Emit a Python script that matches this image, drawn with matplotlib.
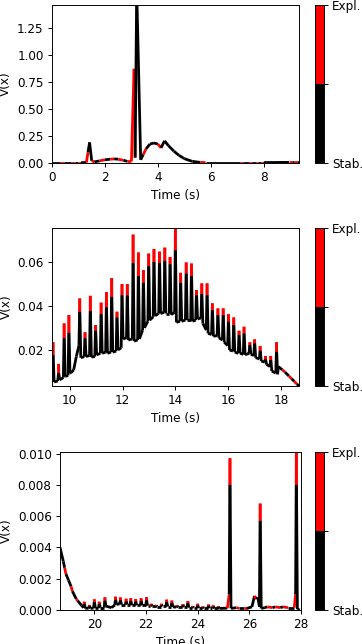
import numpy as np
import matplotlib
matplotlib.use('Agg')
import matplotlib.pyplot as plt
from matplotlib.collections import LineCollection
from matplotlib.colors import ListedColormap, Normalize
from matplotlib.cm import ScalarMappable
from matplotlib.ticker import MultipleLocator

# state per point: 0 = stable (black), 1 = explosive (red)

# panel 1, 0 - 9.33 s
t1 = [0.0, 0.3, 0.45, 0.7, 0.85, 1.0, 1.1, 1.3, 1.36, 1.42, 1.5, 1.6, 1.8, 2.0, 2.2, 2.35,
      2.5, 2.7, 2.85, 3.0, 3.1, 3.14, 3.2, 3.35, 3.45, 3.55, 3.7, 3.85, 4.0, 4.12, 4.25,
      4.4, 4.6, 4.8, 5.0, 5.3, 5.6, 5.8, 7.1, 7.2, 7.45, 7.55, 7.7, 7.8, 7.9, 8.0, 8.95,
      9.05, 9.15, 9.25, 9.33]
v1 = [0.003, 0.003, 0.003, 0.003, 0.003, 0.003, 0.003, 0.005, 0.10, 0.19, 0.02, 0.01, 0.02,
      0.03, 0.035, 0.038, 0.035, 0.025, 0.015, 0.015, 0.87, 0.05, 1.6, 0.03, 0.08, 0.13,
      0.175, 0.185, 0.175, 0.14, 0.205, 0.16, 0.11, 0.07, 0.04, 0.015, 0.006, 0.004, 0.004,
      0.004, 0.004, 0.004, 0.004, 0.004, 0.004, 0.004, 0.006, 0.006, 0.006, 0.006, 0.006]
s1 = [0, 1, 0, 1, 0, 1, 0, 1, 0, 0, 1, 0, 1, 0, 1, 0, 1, 0, 1, 1, 1, 0, 0, 0, 1, 0, 0, 0, 1,
      0, 0, 0, 0, 0, 0, 0, 1, 0, 1, 0, 1, 0, 1, 0, 1, 0, 1, 0, 1, 0, 0]

# panel 2, spikes: time, level before, red/black change, peak, level after
spike_t2 = [9.37, 9.58, 9.79, 9.97, 10.38, 10.58, 10.78, 10.98, 11.19, 11.39, 11.59, 11.79,
            11.98, 12.18, 12.40, 12.60, 12.79, 12.99, 13.19, 13.40, 13.60, 13.80, 14.00,
            14.20, 14.41, 14.61, 14.80, 15.00, 15.20, 15.40, 15.61, 15.81, 16.01, 16.21,
            16.41, 16.60, 16.82, 17.00, 17.21, 17.41, 17.61, 17.83]
spike_peak2 = [0.0235, 0.0137, 0.032, 0.0358, 0.0433, 0.028, 0.0445, 0.0313, 0.0414, 0.0462,
               0.0525, 0.0373, 0.0498, 0.0498, 0.0722, 0.0641, 0.0561, 0.0636, 0.0657,
               0.0645, 0.0663, 0.0621, 0.0752, 0.0549, 0.0596, 0.0591, 0.0471, 0.0501,
               0.0501, 0.0411, 0.0388, 0.0388, 0.0362, 0.0347, 0.0287, 0.0305, 0.0235,
               0.0248, 0.0218, 0.0173, 0.0173, 0.0235]
spike_mid2 = [0.0177, 0.0095, 0.0253, 0.0278, 0.0373, 0.0253, 0.0377, 0.0287, 0.0362, 0.0393,
              0.044, 0.0347, 0.0448, 0.0447, 0.0594, 0.0535, 0.0504, 0.0579, 0.0599, 0.0594,
              0.0603, 0.0588, 0.0651, 0.0504, 0.0546, 0.0534, 0.0448, 0.0453, 0.0448, 0.038,
              0.0358, 0.0358, 0.0328, 0.0313, 0.0268, 0.0275, 0.0223, 0.023, 0.0197, 0.0158,
              0.0155, 0.0192]
spike_base2 = [0.0060, 0.0060, 0.0075, 0.0085, 0.0220, 0.0170, 0.0175, 0.0170, 0.0185, 0.0190,
               0.0190, 0.0195, 0.0210, 0.0255, 0.0250, 0.0245, 0.0290, 0.0330, 0.0350,
               0.0365, 0.0370, 0.0365, 0.0370, 0.0330, 0.0335, 0.0335, 0.0335, 0.0345,
               0.0290, 0.0270, 0.0265, 0.0245, 0.0220, 0.0195, 0.0185, 0.0180, 0.0185,
               0.0175, 0.0160, 0.0145, 0.0125, 0.0095]
spike_after2 = [0.0055, 0.0065, 0.0080, 0.0095, 0.0165, 0.0170, 0.0168, 0.0178, 0.0185,
                0.0185, 0.0190, 0.0200, 0.0250, 0.0245, 0.0240, 0.0250, 0.0300, 0.0335,
                0.0355, 0.0365, 0.0365, 0.0360, 0.0325, 0.0330, 0.0335, 0.0330, 0.0340,
                0.0320, 0.0275, 0.0262, 0.0255, 0.0235, 0.0200, 0.0190, 0.0185, 0.0178,
                0.0180, 0.0165, 0.0150, 0.0135, 0.0105, 0.0090]
# panel 2, extra points between spikes
base_t2 = [9.33, 10.06, 10.15, 10.25, 17.9, 18.05, 18.15, 18.3, 18.4, 18.5, 18.6, 18.68]
base_v2 = [0.0150, 0.0098, 0.0110, 0.0170, 0.0125, 0.0110, 0.0100, 0.0082, 0.0070, 0.0058,
           0.0046, 0.0037]
base_s2 = [0, 0, 0, 0, 0, 1, 0, 1, 0, 1, 0, 0]

# panel 3, spikes
spike_t3 = [19.61, 19.81, 20.00, 20.19, 20.41, 20.82, 21.01, 21.23, 21.41, 21.60, 21.81,
            22.02, 22.20, 22.40, 22.60, 22.80, 23.00, 23.20, 23.43, 23.62, 23.81, 24.00,
            24.20, 24.42, 24.60, 24.80, 25.25, 26.42, 27.82]
spike_peak3 = [0.00053, 0.00032, 0.00068, 0.00053, 0.00081, 0.00085, 0.00080, 0.00072,
               0.00075, 0.00070, 0.00075, 0.00082, 0.00040, 0.00032, 0.00040, 0.00066,
               0.00060, 0.00030, 0.00038, 0.00057, 0.00026, 0.00040, 0.00022, 0.00035,
               0.00030, 0.00025, 0.0097, 0.0068, 0.0110]
spike_mid3 = [0.00040, 0.00025, 0.00050, 0.00040, 0.00060, 0.00065, 0.00062, 0.00055,
              0.00058, 0.00055, 0.00058, 0.00062, 0.00032, 0.00026, 0.00032, 0.00050,
              0.00046, 0.00024, 0.00030, 0.00044, 0.00020, 0.00030, 0.00018, 0.00027,
              0.00023, 0.00020, 0.0080, 0.0057, 0.0080]
spike_base3 = [0.00015, 0.00012, 0.00012, 0.00012, 0.00015, 0.00030, 0.00040, 0.00035,
               0.00035, 0.00030, 0.00030, 0.00030, 0.00028, 0.00025, 0.00022, 0.00025,
               0.00022, 0.00018, 0.00018, 0.00020, 0.00015, 0.00015, 0.00012, 0.00012,
               0.00012, 0.00010, 0.00100, 0.00020, 0.00100]
spike_after3 = [0.00010, 0.00010, 0.00012, 0.00015, 0.00025, 0.00035, 0.00035, 0.00035,
                0.00030, 0.00030, 0.00030, 0.00028, 0.00025, 0.00022, 0.00025, 0.00022,
                0.00020, 0.00018, 0.00020, 0.00015, 0.00015, 0.00012, 0.00012, 0.00012,
                0.00010, 0.00010, 0.00010, 0.00010, 0.00005]
base_t3 = [18.67, 18.8, 18.85, 18.9, 19.0, 19.1, 19.15, 19.3, 19.35, 19.5, 20.65, 25.15,
           25.5, 25.6, 25.8, 25.9, 26.1, 26.2, 26.28, 26.33, 26.6, 26.7, 26.9, 27.0, 27.2,
           27.3, 27.5, 27.74, 27.95]
base_v3 = [0.0040, 0.0031, 0.0027, 0.0023, 0.0019, 0.0015, 0.0012, 0.0007, 0.0006, 0.0003,
           0.00015, 0.00012, 0.00015, 0.0001, 0.0001, 0.0001, 0.0002, 0.0009, 0.0007, 0.0008,
           0.00015, 0.0002, 0.00015, 0.0002, 0.00015, 0.0002, 0.00015, 0.00015, 0.0]
base_s3 = [0, 0, 1, 0, 0, 1, 0, 1, 0, 0, 0, 1, 1, 0, 1, 0, 0, 1, 0, 0, 0, 1, 0, 1, 0, 1, 0,
           1, 0]


def build(spike_t, spike_base, spike_mid, spike_peak, spike_after, base_t, base_v, base_s):
    pts = list(zip(base_t, base_v, base_s))
    for t, b, m, p, a in zip(spike_t, spike_base, spike_mid, spike_peak, spike_after):
        pts += [(t - 0.03, b, 0), (t - 0.006, m, 1), (t, p, 1), (t + 0.006, m, 0),
                (t + 0.04, a, 0)]
    pts.sort(key=lambda q: q[0])
    return [q[0] for q in pts], [q[1] for q in pts], [q[2] for q in pts]


t2, v2, s2 = build(spike_t2, spike_base2, spike_mid2, spike_peak2, spike_after2,
                   base_t2, base_v2, base_s2)
t3, v3, s3 = build(spike_t3, spike_base3, spike_mid3, spike_peak3, spike_after3,
                   base_t3, base_v3, base_s3)

cmap = ListedColormap(['black', 'red'])
norm = Normalize(0, 1)

W, H = 362, 644
fig = plt.figure(figsize=(W / 86, H / 86), dpi=86)

panels = [
    (t1, v1, s1, (0, 9.33), (0, 1.46), 0.25, [52, 5, 299, 163]),
    (t2, v2, s2, (9.33, 18.68), (0.0037, 0.0752), 0.02, [52, 228, 299, 386]),
    (t3, v3, s3, (18.67, 28.0), (0, 0.0101), 0.002, [60, 452, 301, 610]),
]

for t, v, s, xl, yl, ystep, box in panels:
    x0, y0, x1, y1 = box
    ax = fig.add_axes([x0 / W, 1 - y1 / H, (x1 - x0) / W, (y1 - y0) / H])
    pts = np.column_stack([t, v])
    segs = np.stack([pts[:-1], pts[1:]], axis=1)
    lc = LineCollection(segs, cmap=cmap, norm=norm, linewidths=2.3)
    lc.set_array(np.array(s[:-1], dtype=float))
    ax.add_collection(lc)
    ax.set_xlim(*xl)
    ax.set_ylim(*yl)
    ax.yaxis.set_major_locator(MultipleLocator(ystep))
    ax.xaxis.set_major_locator(MultipleLocator(2))
    ax.set_xlabel('Time (s)')
    ax.set_ylabel('V(x)')

    cax = fig.add_axes([315 / W, 1 - y1 / H, 9 / W, (y1 - y0) / H])
    cb = fig.colorbar(ScalarMappable(norm=norm, cmap=cmap), cax=cax, ticks=[0, 0.5, 1])
    cb.ax.set_yticklabels(['Stab.', '', 'Expl.'])

fig.savefig('out.png', dpi=86)
